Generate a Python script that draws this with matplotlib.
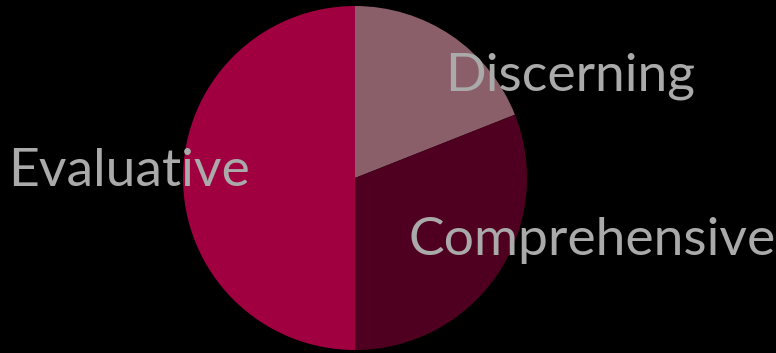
import matplotlib
matplotlib.use('agg')
import matplotlib.pyplot as plt

labels = ['Discerning', 'Comprehensive', 'Evaluative']
values = [19, 31, 50]
colors = ['#8a5f69', '#4f0020', '#a0003f']

# label anchor positions (pixels, y measured from bottom)
label_pos = [(570, 277), (592, 112), (129, 182)]

fig = plt.figure(figsize=(7.76, 3.53), dpi=100, facecolor='black')
ax = fig.add_axes([0, 0, 1, 1])
ax.set_facecolor('black')

ax.pie(values, colors=colors, startangle=90, counterclock=False,
       center=(355, 175), radius=172, frame=True,
       wedgeprops=dict(linewidth=0))

for lab, (x, y) in zip(labels, label_pos):
    ax.text(x, y, lab, fontsize=38.5, family='Lato', color='#aaaaaa',
            ha='center', va='center')

ax.set_xlim(0, 776)
ax.set_ylim(0, 353)
ax.set_aspect('equal')
ax.axis('off')

fig.savefig('out.png', dpi=100, facecolor='black')
